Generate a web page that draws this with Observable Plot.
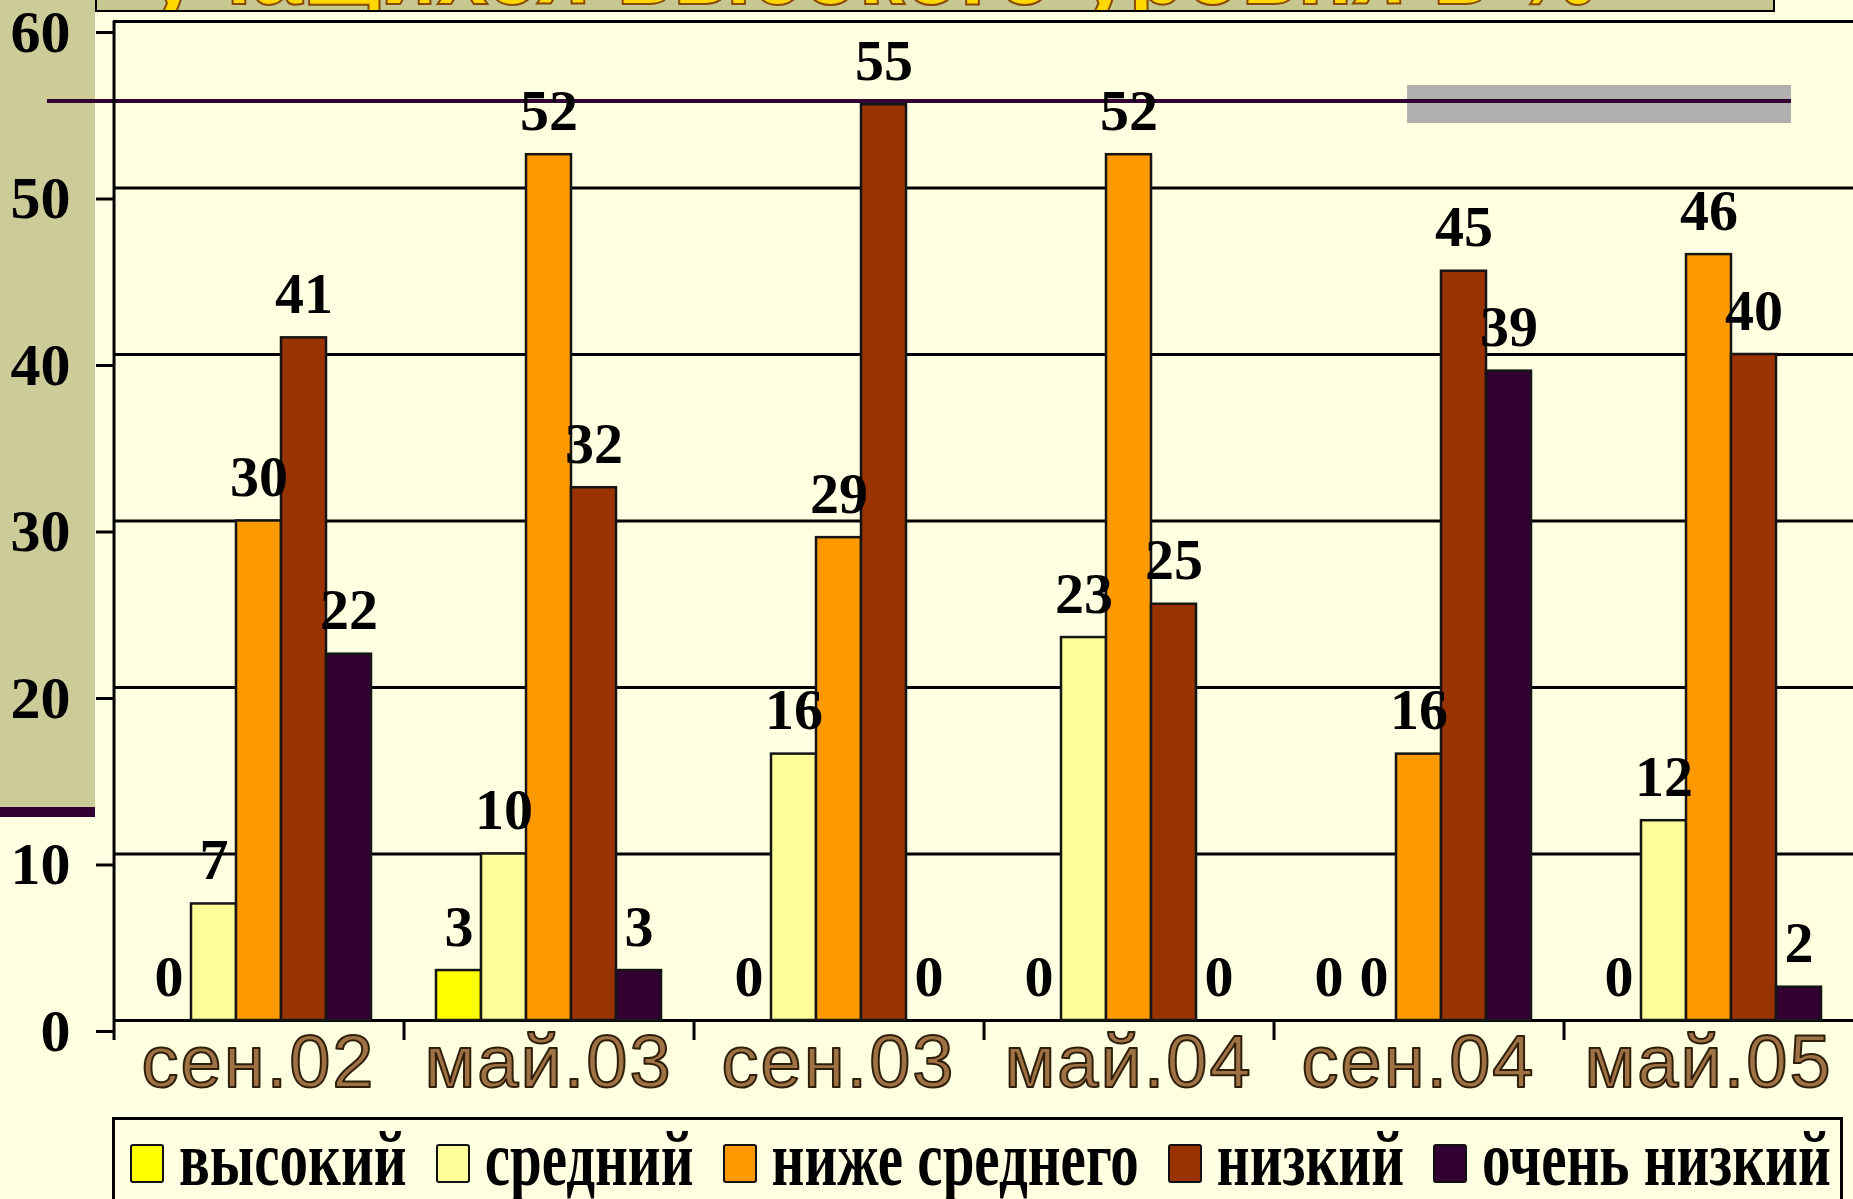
<!DOCTYPE html>
<html>
<head>
<meta charset="utf-8">
<script src="https://cdn.jsdelivr.net/npm/d3@7"></script>
<script src="https://cdn.jsdelivr.net/npm/@observablehq/plot@0.6"></script>
<style>
  html, body { margin: 0; padding: 0; background: #FFFFE1; }
  #page { position: relative; width: 1853px; height: 1199px; overflow: hidden; background: #FFFFE1; }
  .deco { position: absolute; }
  #chart { position: absolute; left: 0; top: 0; }
  #chart svg { background: transparent; }
  #legend { position: absolute; left: 112px; top: 1117px; width: 1731px; height: 120px;
            border: 3px solid #000; box-sizing: border-box; display: flex; align-items: flex-start;
            padding-left: 15px; padding-top: 22px; white-space: nowrap; }
  .sw { display: inline-block; flex: none; width: 30px; height: 35px; border: 2px solid #111; border-radius: 3px; margin-right: 15px; margin-top: 2px; }
  .lt { display: inline-block; flex: none; font-family: "Liberation Serif", "Times New Roman", serif; font-weight: bold;
        font-size: 57px; line-height: 40px; transform: translateY(-3px) scaleY(1.36); transform-origin: 50% 50%; margin-right: 29px; color: #000; white-space: nowrap; }
  #title { position: absolute; left: 95px; top: -88px; width: 1680px; height: 100px; box-sizing: border-box;
           border: 2px solid #000; background: linear-gradient(#D6D6AE, #C6C690); overflow: hidden; }
  #title span { position: absolute; left: 50px; bottom: -8px; font-family: "Liberation Sans", Arial, sans-serif; font-weight: bold;
           font-size: 92px; line-height: 1; color: #FFD800; -webkit-text-stroke: 2px #8A4A00; white-space: nowrap; }
</style>
</head>
<body>
<div id="page">
  <div class="deco" style="left:0;top:0;width:95px;height:807px;background:#CCCC99;"></div>
  <div class="deco" style="left:0;top:807px;width:95px;height:10px;background:#330033;"></div>
  <div class="deco" style="left:1407px;top:85px;width:384px;height:38px;background:#B0B0B0;"></div>
  <div class="deco" style="left:47px;top:99px;width:1744px;height:4px;background:#330033;"></div>
  <div id="title"><span>учащихся высокого уровня в %</span></div>
  <div id="chart"></div>
  <div id="legend"></div>
</div>
<script>
// ---- data ----
const periods = ["сен.02", "май.03", "сен.03", "май.04", "сен.04", "май.05"];
const levels = ["высокий", "средний", "ниже среднего", "низкий", "очень низкий"];
const vysokiy       = [0, 3, 0, 0, 0, 0];
const sredniy       = [7, 10, 16, 23, 0, 12];
const nizheSrednego = [30, 52, 29, 52, 16, 46];
const nizkiy        = [41, 32, 55, 25, 45, 40];
const ochenNizkiy   = [22, 3, 0, 0, 39, 2];
const levelColors = ["#FFFF00", "#FFFF99", "#FF9900", "#993300", "#330033"];
const yTicks = [0, 10, 20, 30, 40, 50, 60];

const series = [vysokiy, sredniy, nizheSrednego, nizkiy, ochenNizkiy];
const rows = [];
periods.forEach((p, i) => levels.forEach((l, j) => rows.push({period: p, level: l, value: series[j][i]})));

// ---- layout ----
const W = 1853, H = 1115, mL = 112, mR = 0, mT = 21, mB = 95;
const padOuter = 0.72;
const facetW = (W - mL - mR) / periods.length;
const step = facetW / (levels.length + 2 * padOuter);
const firstOffset = padOuter * step + step / 2;
const serif = "Liberation Serif, Times New Roman, serif";

const chart = Plot.plot({
  width: W, height: H,
  marginLeft: mL, marginRight: mR, marginTop: mT, marginBottom: mB,
  style: {background: "transparent", overflow: "visible"},
  fx: {domain: periods, paddingInner: 0, paddingOuter: 0, axis: null, label: null},
  x: {domain: levels, paddingInner: 0, paddingOuter: padOuter, axis: null, label: null},
  y: {domain: [0, 60], axis: null, label: null},
  color: {domain: levels, range: levelColors},
  marks: [
    Plot.gridY(yTicks, {stroke: "#000", strokeOpacity: 1, strokeWidth: 3}),
    Plot.axisY(yTicks, {anchor: "left", tickSize: 17, tickPadding: 26, strokeWidth: 3, stroke: "#000",
      fontSize: 60, fontFamily: serif, fontWeight: "bold", fill: "#000", dy: 11, label: null,
      facetAnchor: "left"}),
    Plot.barY(rows, {fx: "period", x: "level", y: "value", fill: "level", stroke: "#151515", strokeWidth: 2.5}),
    Plot.ruleX([levels[0]], {x: d => d, dx: -firstOffset, y1: 0, y2: 0, insetBottom: -20, stroke: "#000", strokeWidth: 3}),
    Plot.ruleX([levels[0]], {x: d => d, dx: -firstOffset, y1: 60, y2: 0, fx: () => periods[0], stroke: "#000", strokeWidth: 3}),
    Plot.text(rows, {fx: "period", x: "level", y: "value", text: d => String(d.value), lineAnchor: "bottom", dy: -25,
      fontSize: 58, fontFamily: serif, fontWeight: "bold", fill: "#000"}),
    Plot.text(periods, {fx: d => d, text: d => d, frameAnchor: "bottom", lineAnchor: "bottom", dy: 66,
      fontSize: 74, fontFamily: "Liberation Sans, Arial, sans-serif", fill: "#9E7245", stroke: "#2E1E0A",
      strokeWidth: 2, paintOrder: "normal"})
  ]
});
document.getElementById("chart").appendChild(chart);
d3.select(chart).selectAll("text")
  .filter(function () { return periods.includes(this.textContent); })
  .attr("letter-spacing", 2);

// ---- legend ----
const legend = document.getElementById("legend");
levels.forEach((l, j) => {
  const sw = document.createElement("span");
  sw.className = "sw";
  sw.style.background = levelColors[j];
  const t = document.createElement("span");
  t.className = "lt";
  t.textContent = l;
  legend.appendChild(sw);
  legend.appendChild(t);
});
</script>
</body>
</html>
